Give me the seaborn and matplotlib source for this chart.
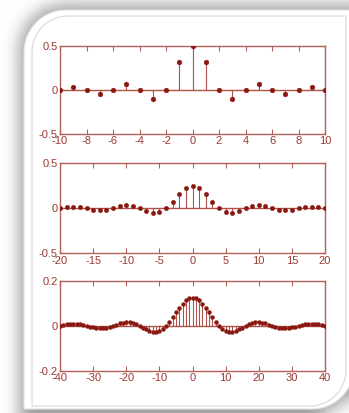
import numpy as np
import pandas as pd
import matplotlib
matplotlib.use("Agg")
import matplotlib.pyplot as plt
from matplotlib import font_manager
from matplotlib.path import Path
from matplotlib.patches import Polygon
import seaborn as sns

# ---------------- data ----------------
n1 = list(range(-10, 11))
h1 = [0, 0.0354, 0, -0.0455, 0, 0.0637, 0, -0.1061, 0, 0.3183, 0.5,
      0.3183, 0, -0.1061, 0, 0.0637, 0, -0.0455, 0, 0.0354, 0]

n2 = list(range(-20, 21))
h2 = [0, 0.0118, 0.0177, 0.0132, 0, -0.0150, -0.0227, -0.0173, 0, 0.0205,
      0.0318, 0.0250, 0, -0.0322, -0.0531, -0.0450, 0, 0.0750, 0.1592, 0.2251,
      0.25,
      0.2251, 0.1592, 0.0750, 0, -0.0450, -0.0531, -0.0322, 0, 0.0250, 0.0318,
      0.0205, 0, -0.0173, -0.0227, -0.0150, 0, 0.0132, 0.0177, 0.0118, 0]

n3 = list(range(-40, 41))
h3 = [0, 0.0031, 0.0059, 0.0079, 0.0088, 0.0084, 0.0066, 0.0037, 0, -0.0039,
      -0.0075, -0.0101, -0.0114, -0.0109, -0.0087, -0.0049, 0, 0.0053, 0.0102,
      0.0140, 0.0159, 0.0155, 0.0125, 0.0072, 0, -0.0081, -0.0161, -0.0226,
      -0.0265, -0.0267, -0.0225, -0.0135, 0, 0.0174, 0.0375, 0.0588, 0.0796,
      0.0980, 0.1125, 0.1218,
      0.125,
      0.1218, 0.1125, 0.0980, 0.0796, 0.0588, 0.0375, 0.0174, 0, -0.0135,
      -0.0225, -0.0267, -0.0265, -0.0226, -0.0161, -0.0081, 0, 0.0072, 0.0125,
      0.0155, 0.0159, 0.0140, 0.0102, 0.0053, 0, -0.0049, -0.0087, -0.0109,
      -0.0114, -0.0101, -0.0075, -0.0039, 0, 0.0037, 0.0066, 0.0084, 0.0088,
      0.0079, 0.0059, 0.0031, 0]

xticks1 = [-10, -8, -6, -4, -2, 0, 2, 4, 6, 8, 10]
xticks2 = [-20, -15, -10, -5, 0, 5, 10, 15, 20]
xticks3 = [-40, -30, -20, -10, 0, 10, 20, 30, 40]
yticks1 = [-0.5, 0, 0.5]
ylabels1 = ["-0.5", "0", "0.5"]
yticks3 = [-0.2, 0, 0.2]
ylabels3 = ["-0.2", "0", "0.2"]

# ---------------- style ----------------
sns.set_theme(style="white")
family = "DejaVu Sans"
for cand in ["Liberation Sans Narrow", "Liberation Sans"]:
    try:
        font_manager.findfont(cand, fallback_to_default=False)
        family = cand
        break
    except Exception:
        pass
plt.rcParams["font.family"] = [family, "DejaVu Sans"]
plt.rcParams["axes.unicode_minus"] = False

AX_COL = "#b3605a"
TXT_COL = "#9a3a32"
STEM_COL = "#b0524a"
MK_COL = "#8a1810"

W, H = 349, 413
fig = plt.figure(figsize=(W / 100, H / 100), dpi=100)
fig.patch.set_facecolor("white")

# ---------------- background card with shadow ----------------
def diag_round(x0, y0, x1, y1, r, n=40):
    pts = [(x0 + r, y0), (x1, y0), (x1, y1 - r)]
    t = np.linspace(0, np.pi / 2, n)
    pts += list(zip(x1 - r + r * np.cos(t), y1 - r + r * np.sin(t)))
    pts += [(x0, y1), (x0, y0 + r)]
    t = np.linspace(np.pi, 1.5 * np.pi, n)
    pts += list(zip(x0 + r + r * np.cos(t), y0 + r + r * np.sin(t)))
    return np.array(pts)

bg = fig.add_axes([0, 0, 1, 1], zorder=-10)
bg.set_xlim(0, W)
bg.set_ylim(H, 0)
bg.axis("off")

card = diag_round(24, 10, 354, 409, 42)
yy, xx = np.mgrid[0:H, 0:W]
grid_pts = np.column_stack([xx.ravel() + 0.5, yy.ravel() + 0.5])
shadow_shape = diag_round(19, 4, 360, 413, 46)
mask = Path(shadow_shape).contains_points(grid_pts).reshape(H, W).astype(float)
sig = 8.0
k = np.arange(-30, 31)
g = np.exp(-k ** 2 / (2 * sig ** 2))
g /= g.sum()
pad = 35
mp = np.pad(mask, pad, mode="edge")
mp = np.apply_along_axis(lambda r: np.convolve(r, g, mode="same"), 1, mp)
mp = np.apply_along_axis(lambda c: np.convolve(c, g, mode="same"), 0, mp)
blur = mp[pad:-pad, pad:-pad]
val = 1 - 0.36 * blur
img = np.dstack([val, val, val])
bg.imshow(img, extent=[0, W, H, 0], interpolation="bilinear", aspect="auto")
bg.add_patch(Polygon(card, closed=True, facecolor="white", edgecolor="#e2e2e2", lw=0.8))
inner = diag_round(32, 16, 346, 406, 36)
bg.add_patch(Polygon(inner, closed=True, facecolor="none", edgecolor="#d8d8d8", lw=0.8))
bg.set_xlim(0, W)
bg.set_ylim(H, 0)

# ---------------- stem panels ----------------
def px_axes(top, bottom, left=60, right=325):
    return fig.add_axes([left / W, 1 - bottom / H, (right - left) / W, (bottom - top) / H])

panels = [
    (px_axes(46, 133.5), n1, h1, (-10, 10), (-0.5, 0.5), xticks1, yticks1, ylabels1, 12),
    (px_axes(163.3, 253.3), n2, h2, (-20, 20), (-0.5, 0.5), xticks2, yticks1, ylabels1, 10),
    (px_axes(280.7, 370.7), n3, h3, (-40, 40), (-0.2, 0.2), xticks3, yticks3, ylabels3, 8),
]

for ax, n, h, xl, yl, xt, yt, ylab, ms in panels:
    ax.set_facecolor("none")
    df = pd.DataFrame({"n": n, "h": h})
    ax.axhline(0, color=STEM_COL, lw=1.0, zorder=2)
    ax.vlines(df["n"], 0, df["h"], color=STEM_COL, lw=0.8, zorder=2)
    sns.scatterplot(data=df, x="n", y="h", ax=ax, color=MK_COL, s=ms,
                    edgecolor=MK_COL, linewidth=0.3, zorder=3, legend=False)
    ax.set_xlim(*xl)
    ax.set_ylim(*yl)
    ax.set_xticks(xt)
    ax.set_xticklabels([str(v) for v in xt])
    ax.set_yticks(yt)
    ax.set_yticklabels(ylab)
    ax.set_xlabel("")
    ax.set_ylabel("")
    for sp in ax.spines.values():
        sp.set_visible(True)
        sp.set_color(AX_COL)
        sp.set_linewidth(1.0)
    ax.tick_params(axis="x", direction="in", length=3.5, width=0.8, color=AX_COL,
                   labelcolor=TXT_COL, labelsize=8, top=True, bottom=True, pad=2)
    ax.tick_params(axis="y", direction="in", length=3.5, width=0.8, color=AX_COL,
                   labelcolor=TXT_COL, labelsize=8, left=True, right=True, pad=1.5)
    ax.grid(False)

fig.savefig("out.png", dpi=100)
